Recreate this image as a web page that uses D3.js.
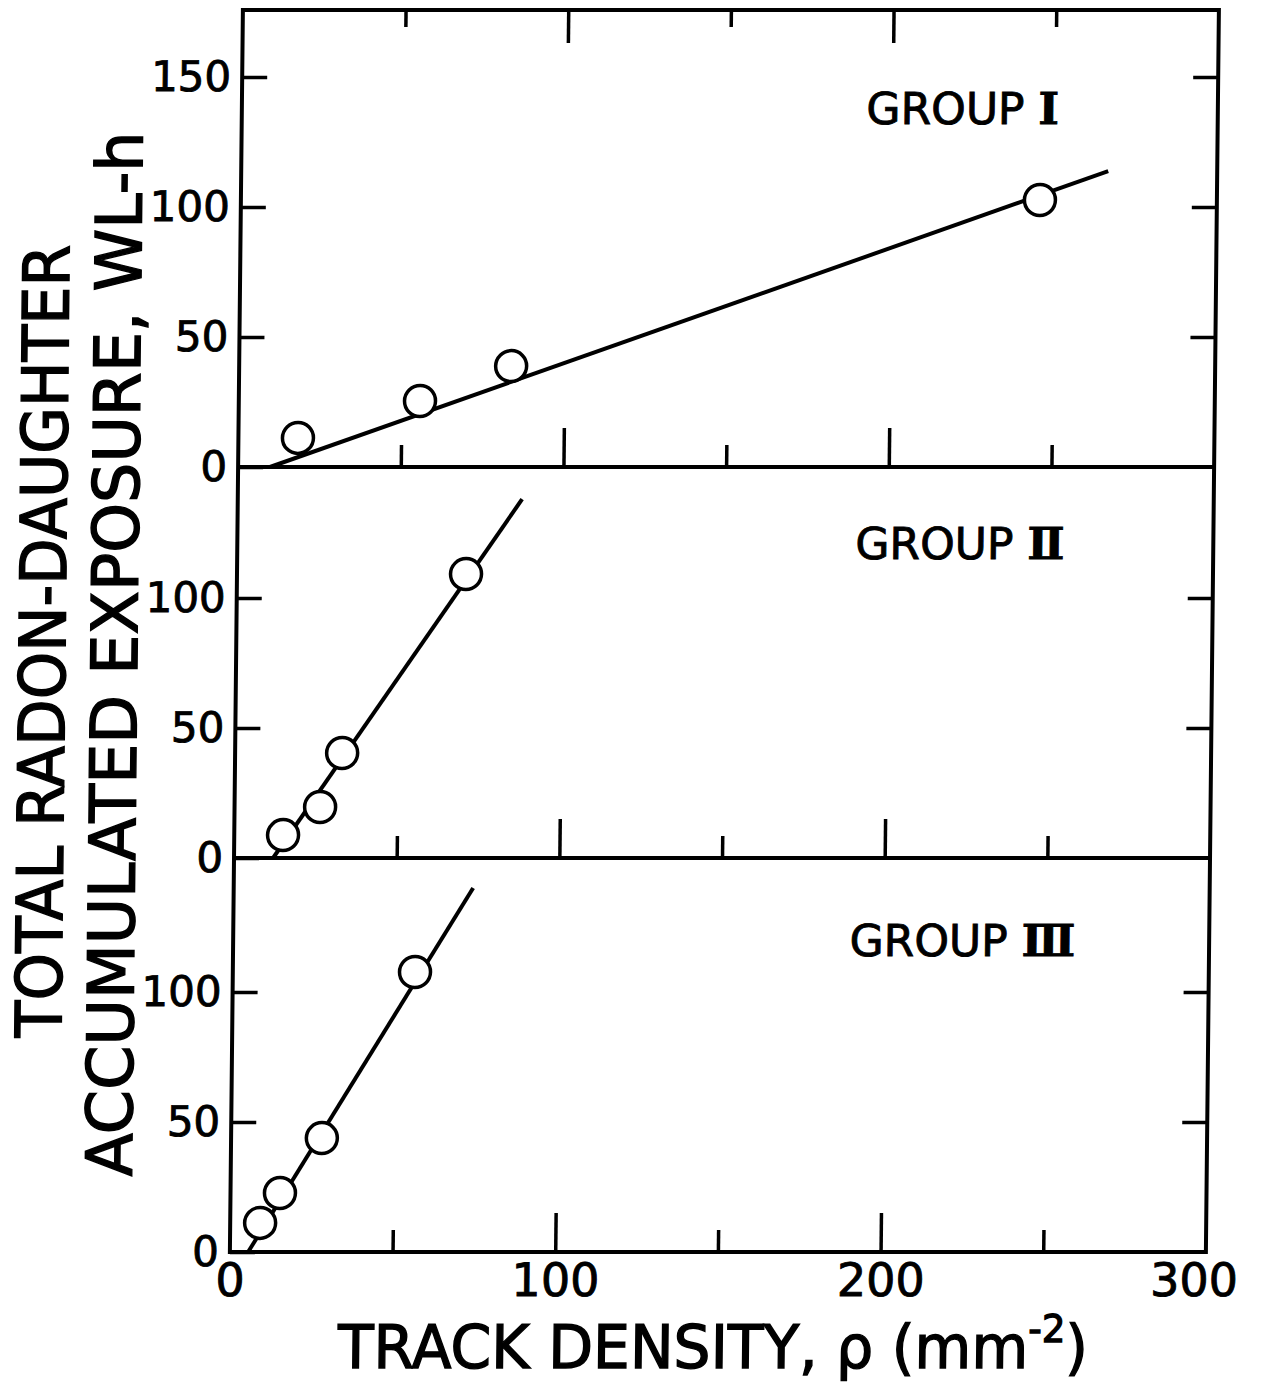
<!DOCTYPE html>
<html lang="en">
<head>
  <meta charset="UTF-8" />
  <title>Radon-daughter exposure vs track density</title>
  <script src="https://d3js.org/d3.v7.min.js"></script>
  <style>
    body { margin: 0; background: #fff; }
    text { font-family: "DejaVu Sans", sans-serif; fill: #000; stroke: #000; stroke-width: 0.9px; }
    .title { stroke-width: 1.4px; }
    .tick line { stroke: #000; stroke-width: 3.5px; }
  </style>
</head>
<body>
<svg width="1261" height="1398"></svg>

<script>
  // data
  const groupNames = ["Ⅰ", "Ⅱ", "Ⅲ"];
  const group1X = [18.3, 55.7, 83.6, 245.6];
  const group1Y = [11.2, 25.4, 38.8, 102.7];
  const group2X = [15.0, 26.3, 32.9, 70.4];
  const group2Y = [8.8, 19.6, 40.4, 109.2];
  const group3X = [9.2, 15.2, 27.9, 56.0];
  const group3Y = [11.2, 22.7, 43.8, 107.7];
  const fit1 = [[9.8, 0], [266.5, 113.8]];
  const fit2 = [[12.0, 0], [87.4, 138]];
  const fit3 = [[5.6, 0], [73.6, 140]];
  const xTickMajor = [0, 100, 200, 300];
  const xTickMinor = [50, 150, 250];
  const yTicks1 = [0, 50, 100, 150];
  const yTicks23 = [0, 50, 100];

  const svg = d3.select("svg");
  // the scanned figure leans a little to the left
  const root = svg.append("g").attr("transform", "skewX(-0.6)");

  const x = d3.scaleLinear().domain([0, 300]).range([243, 1219]);
  const pxPerUnit = 2.6;

  const panels = [
    { top: 10,  bottom: 467,  xs: group1X, ys: group1Y, fit: fit1, ticks: yTicks1, label: [192, 132] },
    { top: 467, bottom: 858,  xs: group2X, ys: group2Y, fit: fit2, ticks: yTicks23, label: [190, 115] },
    { top: 858, bottom: 1252, xs: group3X, ys: group3Y, fit: fit3, ticks: yTicks23, label: [189.5, 114] }
  ];

  panels.forEach((p, i) => {
    const y = d3.scaleLinear()
      .domain([0, (p.bottom - p.top) / pxPerUnit])
      .range([p.bottom, p.top]);
    const g = root.append("g");

    // left ticks + labels
    g.append("g")
      .attr("transform", `translate(${x(0)},0)`)
      .call(d3.axisLeft(y).tickValues(p.ticks).tickSize(-25).tickPadding(11).tickFormat(d3.format("d")))
      .call(a => a.select(".domain").remove())
      .call(a => a.selectAll("text").attr("font-size", 42).attr("font-family", "DejaVu Sans"));

    // right ticks
    g.append("g")
      .attr("transform", `translate(${x(300)},0)`)
      .call(d3.axisRight(y).tickValues(p.ticks.filter(v => v > 0)).tickSize(-25).tickFormat(""))
      .call(a => a.select(".domain").remove());

    // ticks standing on the panel's base line
    g.append("g")
      .attr("transform", `translate(0,${p.bottom})`)
      .call(d3.axisBottom(x).tickValues([100, 200]).tickSize(-39).tickFormat(""))
      .call(a => a.select(".domain").remove());
    g.append("g")
      .attr("transform", `translate(0,${p.bottom})`)
      .call(d3.axisBottom(x).tickValues(xTickMinor).tickSize(-22).tickFormat(""))
      .call(a => a.select(".domain").remove());

    // fitted line
    g.append("path")
      .datum(p.fit)
      .attr("fill", "none")
      .attr("stroke", "#000")
      .attr("stroke-width", 4)
      .attr("d", d3.line().x(d => x(d[0])).y(d => y(d[1])));

    // points
    g.selectAll("circle")
      .data(p.xs.map((v, k) => [v, p.ys[k]]))
      .enter().append("circle")
      .attr("cx", d => x(d[0]))
      .attr("cy", d => y(d[1]))
      .attr("r", 15.5)
      .attr("fill", "#fff")
      .attr("stroke", "#000")
      .attr("stroke-width", 3.5);

    // group name
    const t = g.append("text")
      .attr("x", x(p.label[0]))
      .attr("y", y(p.label[1]))
      .attr("font-size", 44)
      .text("GROUP ");
    t.append("tspan")
      .attr("font-family", "DejaVu Serif")
      .attr("font-weight", "bold")
      .text(groupNames[i]);
  });

  // ticks hanging from the top edge
  root.append("g")
    .attr("transform", `translate(0,${panels[0].top})`)
    .call(d3.axisTop(x).tickValues([100, 200]).tickSize(-33).tickFormat(""))
    .call(a => a.select(".domain").remove());
  root.append("g")
    .attr("transform", `translate(0,${panels[0].top})`)
    .call(d3.axisTop(x).tickValues(xTickMinor).tickSize(-17).tickFormat(""))
    .call(a => a.select(".domain").remove());

  // frame and panel dividers
  root.append("rect")
    .attr("x", x(0)).attr("y", panels[0].top)
    .attr("width", x(300) - x(0)).attr("height", panels[2].bottom - panels[0].top)
    .attr("fill", "none").attr("stroke", "#000").attr("stroke-width", 4);
  [panels[0].bottom, panels[1].bottom].forEach(yy => {
    root.append("line")
      .attr("x1", x(0)).attr("x2", x(300)).attr("y1", yy).attr("y2", yy)
      .attr("stroke", "#000").attr("stroke-width", 4);
  });

  // x tick labels
  root.append("g")
    .attr("transform", `translate(0,${panels[2].bottom})`)
    .call(d3.axisBottom(x).tickValues(xTickMajor).tickSize(0).tickPadding(11).tickFormat(d3.format("d")))
    .call(a => a.select(".domain").remove())
    .call(a => a.selectAll("text").attr("font-size", 46).attr("font-family", "DejaVu Sans")
      .attr("dx", d => d === 300 ? -12 : 0));

  // axis titles
  const xt = root.append("text")
    .attr("class", "title")
    .attr("x", 727)
    .attr("y", 1368)
    .attr("text-anchor", "middle")
    .attr("font-size", 60)
    .attr("textLength", 750)
    .attr("lengthAdjust", "spacingAndGlyphs")
    .text("TRACK DENSITY, ρ (mm");
  xt.append("tspan").attr("font-size", 38).attr("dy", -26).text("-2");
  xt.append("tspan").attr("dy", 26).text(")");

  root.append("text")
    .attr("class", "title")
    .attr("transform", "translate(72,641) rotate(-90)")
    .attr("text-anchor", "middle")
    .attr("font-size", 64)
    .attr("textLength", 793)
    .attr("lengthAdjust", "spacingAndGlyphs")
    .text("TOTAL RADON-DAUGHTER");

  root.append("text")
    .attr("class", "title")
    .attr("transform", "translate(144,654) rotate(-90)")
    .attr("text-anchor", "middle")
    .attr("font-size", 64)
    .attr("textLength", 1045)
    .attr("lengthAdjust", "spacingAndGlyphs")
    .text("ACCUMULATED EXPOSURE, WL-h");
</script>
</body>
</html>
